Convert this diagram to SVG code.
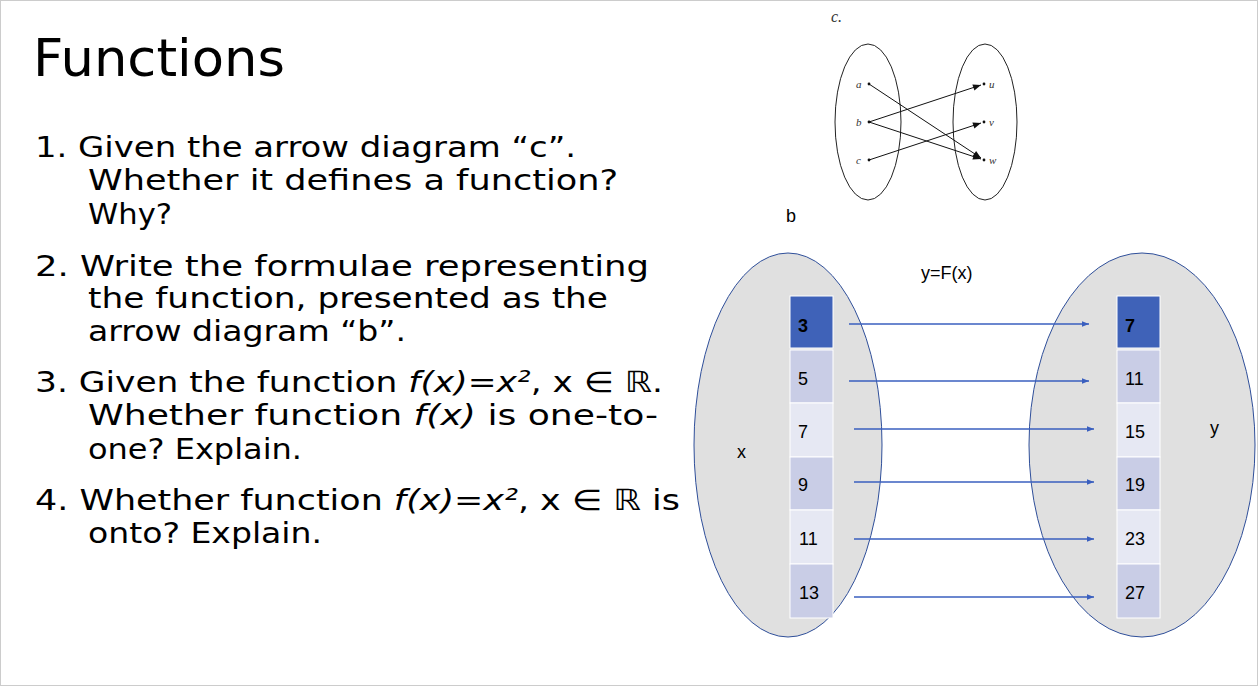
<svg xmlns="http://www.w3.org/2000/svg" width="1258" height="687" viewBox="0 0 1258 687">
<style>
.t{font-family:"DejaVu Sans",sans-serif;font-size:29px;fill:#000}
.s{font-family:"Liberation Serif",serif;font-style:italic;font-size:11px;fill:#333}
.n{font-family:"Liberation Sans",Arial,sans-serif;font-size:18px;fill:#000}
.thin{stroke:#222;stroke-width:1;fill:none}
.bl{stroke:#3a5fbf;stroke-width:1.3;fill:none}
</style>
<defs>
<marker id="ab" viewBox="0 0 10 10" refX="10" refY="5" markerWidth="7" markerHeight="7" orient="auto" markerUnits="userSpaceOnUse"><path d="M0,1 L10,5 L0,9z" fill="#3a5fbf"/></marker>
<marker id="ak" viewBox="0 0 10 10" refX="10" refY="5" markerWidth="10" markerHeight="8" orient="auto" markerUnits="userSpaceOnUse"><path d="M0,1 L10,5 L0,9z" fill="#111"/></marker>
</defs>
<rect x="0" y="0" width="1258" height="687" fill="#fff"/>
<rect x="0.5" y="0.5" width="1257" height="685" fill="none" stroke="#ccc"/>
<text x="33" y="76" class="t" style="font-size:52px" textLength="252" lengthAdjust="spacingAndGlyphs">Functions</text>
<g id="questions">
<text x="35" y="157" class="t" textLength="541" lengthAdjust="spacingAndGlyphs">1. Given the arrow diagram “c”.</text>
<text x="88" y="190" class="t" textLength="530" lengthAdjust="spacingAndGlyphs">Whether it defines a function?</text>
<text x="88" y="224" class="t" textLength="84" lengthAdjust="spacingAndGlyphs">Why?</text>
<text x="35" y="276" class="t" textLength="614" lengthAdjust="spacingAndGlyphs">2. Write the formulae representing</text>
<text x="88" y="308" class="t" textLength="520" lengthAdjust="spacingAndGlyphs">the function, presented as the</text>
<text x="88" y="341" class="t" textLength="318" lengthAdjust="spacingAndGlyphs">arrow diagram “b”.</text>
<text x="35" y="392" class="t" textLength="628" lengthAdjust="spacingAndGlyphs">3. Given the function <tspan font-style="italic">f(x)=x²</tspan>, x ∈ ℝ.</text>
<text x="88" y="425" class="t" textLength="570" lengthAdjust="spacingAndGlyphs">Whether  function <tspan font-style="italic">f(x)</tspan> is one-to-</text>
<text x="88" y="459" class="t" textLength="214" lengthAdjust="spacingAndGlyphs">one? Explain.</text>
<text x="35" y="510" class="t" textLength="645" lengthAdjust="spacingAndGlyphs">4. Whether  function <tspan font-style="italic">f(x)=x²</tspan>, x ∈ ℝ is</text>
<text x="88" y="543" class="t" textLength="234" lengthAdjust="spacingAndGlyphs">onto? Explain.</text>
</g>
<g id="diagram-c">
<text x="831" y="22" font-family="Liberation Serif,serif" font-style="italic" font-size="16" fill="#333">c.</text>
<ellipse cx="868" cy="122" rx="33" ry="78" class="thin"/>
<ellipse cx="985" cy="122" rx="32" ry="78" class="thin"/>
<g fill="#111"><circle cx="869" cy="84" r="1.4"/><circle cx="869" cy="122" r="1.4"/><circle cx="869" cy="160" r="1.4"/><circle cx="984" cy="84" r="1.4"/><circle cx="984" cy="122" r="1.4"/><circle cx="984" cy="160" r="1.4"/></g>
<text x="856" y="88" class="s">a</text><text x="856" y="126" class="s">b</text><text x="856" y="164" class="s">c</text>
<text x="989" y="88" class="s">u</text><text x="989" y="126" class="s">v</text><text x="989" y="164" class="s">w</text>
</g>
<g id="connectors-c" stroke="#111" stroke-width="1">
<line x1="869" y1="84" x2="981" y2="158" marker-end="url(#ak)"/>
<line x1="869" y1="122" x2="981" y2="85" marker-end="url(#ak)"/>
<line x1="869" y1="122" x2="981" y2="159" marker-end="url(#ak)"/>
<line x1="869" y1="160" x2="981" y2="123" marker-end="url(#ak)"/>
</g>
<g id="set-x"><ellipse cx="788" cy="445" rx="94" ry="192" fill="#e0e0e0" stroke="#2f4f9a" stroke-width="1"/></g>
<g id="set-y"><ellipse cx="1142" cy="445" rx="113" ry="192" fill="#e0e0e0" stroke="#2f4f9a" stroke-width="1"/></g>
<text x="786" y="222" class="n">b</text>
<text x="921" y="279" class="n">y=F(x)</text>
<text x="737" y="458" class="n">x</text>
<text x="1210" y="434" class="n">y</text>
<g id="x-values">
<rect x="790" y="296" width="43" height="52" fill="#3f62b8" stroke="#fff"/><text x="798" y="332" fill="#fff" font-weight="bold" class="n">3</text>
<rect x="790" y="350" width="43" height="53" fill="#c9cde6" stroke="#fff"/><text x="798" y="385" class="n">5</text>
<rect x="790" y="403" width="43" height="54" fill="#e6e8f3" stroke="#fff"/><text x="798" y="438" class="n">7</text>
<rect x="790" y="457" width="43" height="53" fill="#c9cde6" stroke="#fff"/><text x="798" y="491" class="n">9</text>
<rect x="790" y="510" width="43" height="54" fill="#e6e8f3" stroke="#fff"/><text x="799" y="545" class="n">11</text>
<rect x="790" y="564" width="43" height="54" fill="#c9cde6" stroke="#fff"/><text x="799" y="599" class="n">13</text>
</g>
<g id="y-values">
<rect x="1117" y="296" width="43" height="52" fill="#3f62b8" stroke="#fff"/><text x="1125" y="332" fill="#fff" font-weight="bold" class="n">7</text>
<rect x="1117" y="350" width="43" height="53" fill="#c9cde6" stroke="#fff"/><text x="1125" y="385" class="n">11</text>
<rect x="1117" y="403" width="43" height="54" fill="#e6e8f3" stroke="#fff"/><text x="1125" y="438" class="n">15</text>
<rect x="1117" y="457" width="43" height="53" fill="#c9cde6" stroke="#fff"/><text x="1125" y="491" class="n">19</text>
<rect x="1117" y="510" width="43" height="54" fill="#e6e8f3" stroke="#fff"/><text x="1125" y="545" class="n">23</text>
<rect x="1117" y="564" width="43" height="54" fill="#c9cde6" stroke="#fff"/><text x="1125" y="599" class="n">27</text>
</g>
<g id="connectors">
<line x1="849" y1="324" x2="1089" y2="324" class="bl" marker-end="url(#ab)"/>
<line x1="849" y1="381" x2="1089" y2="381" class="bl" marker-end="url(#ab)"/>
<line x1="854" y1="429" x2="1094" y2="429" class="bl" marker-end="url(#ab)"/>
<line x1="854" y1="482" x2="1094" y2="482" class="bl" marker-end="url(#ab)"/>
<line x1="854" y1="539" x2="1094" y2="539" class="bl" marker-end="url(#ab)"/>
<line x1="854" y1="597" x2="1094" y2="597" class="bl" marker-end="url(#ab)"/>
</g>
</svg>
